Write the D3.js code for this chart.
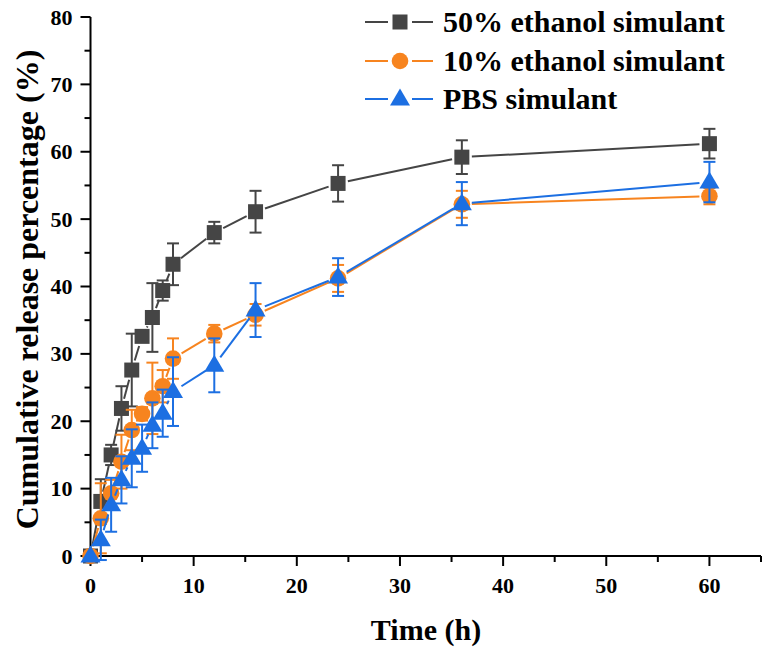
<!DOCTYPE html>
<html><head><meta charset="utf-8">
<script src="https://cdn.jsdelivr.net/npm/d3@7"></script>
<style>body{margin:0;background:#fff}svg{display:block}</style>
</head><body>
<script>
const time = [0,1,2,3,4,5,6,7,8,12,16,24,36,60];
const eth50 = [0,8.1,15.0,21.9,27.6,32.6,35.4,39.4,43.3,48.0,51.1,55.3,59.2,61.2];
const eth50Err = [0,3.3,1.5,3.3,5.4,0.8,5.1,1.5,3.1,1.6,3.1,2.7,2.5,2.2];
const eth10 = [0,5.6,9.3,14.0,18.7,21.1,23.4,25.2,29.3,33.0,35.8,41.2,52.2,53.4];
const eth10Err = [0,5.2,2.0,4.0,3.0,1.0,5.3,2.4,3.0,1.3,1.6,2.0,2.0,1.2];
const pbs = [0,2.4,7.6,11.3,14.5,16.0,19.4,21.2,24.4,28.3,36.5,41.4,52.3,55.5];
const pbsErr = [0,3.0,4.0,3.5,4.3,3.5,3.4,3.5,5.1,4.0,4.0,2.8,3.2,3.0];
const seriesNames = ["50% ethanol simulant","10% ethanol simulant","PBS simulant"];
const xTicks = [0,10,20,30,40,50,60];
const yTicks = [0,10,20,30,40,50,60,70,80];

const W=772,H=650;
const svg=d3.select("body").append("svg").attr("width",W).attr("height",H);
const x=d3.scaleLinear().domain([0,65]).range([90.5,761]);
const y=d3.scaleLinear().domain([0,80]).range([556,17]);
const font="'Liberation Serif','Times New Roman',serif";

const series=[
 {name:seriesNames[0],vals:eth50,err:eth50Err,color:"#454545",shape:"square"},
 {name:seriesNames[1],vals:eth10,err:eth10Err,color:"#f7841f",shape:"circle"},
 {name:seriesNames[2],vals:pbs,err:pbsErr,color:"#1c6fe2",shape:"triangle"}
];

function marker(g,shape,cx,cy,color){
  if(shape==="square") g.append("rect").attr("x",cx-7.5).attr("y",cy-7.5).attr("width",15).attr("height",15).attr("fill",color);
  else if(shape==="circle") g.append("circle").attr("cx",cx).attr("cy",cy).attr("r",8.3).attr("fill",color);
  else g.append("path").attr("d",`M${cx},${cy-10.5}L${cx+10},${cy+6.5}L${cx-10},${cy+6.5}Z`).attr("fill",color);
}

// axes
const gx=svg.append("g").attr("transform",`translate(0,${y(0)})`);
gx.append("line").attr("x1",x(0)-1).attr("x2",x(65)).attr("stroke","#000").attr("stroke-width",2);
d3.range(0,66,5).forEach(v=>{
  gx.append("line").attr("x1",x(v)).attr("x2",x(v)).attr("y1",0).attr("y2",v%10===0?10:6).attr("stroke","#000").attr("stroke-width",2);
});
xTicks.forEach(v=>gx.append("text").attr("x",x(v)).attr("y",37).attr("text-anchor","middle")
  .attr("font-family",font).attr("font-weight","bold").attr("font-size",22).text(v));
const gy=svg.append("g").attr("transform",`translate(${x(0)},0)`);
gy.append("line").attr("y1",y(0)+1).attr("y2",y(80)).attr("stroke","#000").attr("stroke-width",2);
d3.range(0,81,5).forEach(v=>{
  gy.append("line").attr("y1",y(v)).attr("y2",y(v)).attr("x1",0).attr("x2",v%10===0?-10:-6).attr("stroke","#000").attr("stroke-width",2);
});
yTicks.forEach(v=>gy.append("text").attr("x",-18).attr("y",y(v)+7.5).attr("text-anchor","end")
  .attr("font-family",font).attr("font-weight","bold").attr("font-size",22).text(v));

svg.append("text").attr("x",426).attr("y",640).attr("text-anchor","middle")
  .attr("font-family",font).attr("font-weight","bold").attr("font-size",30).text("Time (h)");
svg.append("text").attr("transform",`translate(38,${(y(0)+y(80))/2+3}) rotate(-90)`).attr("text-anchor","middle")
  .attr("font-family",font).attr("font-weight","bold").attr("font-size",32).text("Cumulative release percentage (%)");

// data
const gap=10;
series.forEach(s=>{
  const g=svg.append("g");
  const pts=time.map((t,i)=>[x(t),y(s.vals[i])]);
  for(let i=0;i<pts.length-1;i++){
    const [x1,y1]=pts[i],[x2,y2]=pts[i+1];
    const dx=x2-x1,dy=y2-y1,L=Math.hypot(dx,dy);
    if(L>2*gap+1){
      const ux=dx/L,uy=dy/L;
      g.append("line").attr("x1",x1+ux*gap).attr("y1",y1+uy*gap).attr("x2",x2-ux*gap).attr("y2",y2-uy*gap)
        .attr("stroke",s.color).attr("stroke-width",2);
    }
  }
  time.forEach((t,i)=>{
    if(s.err[i]>0){
      const cx=x(t),y1=y(s.vals[i]+s.err[i]),y2=y(s.vals[i]-s.err[i]);
      g.append("line").attr("x1",cx).attr("x2",cx).attr("y1",y1).attr("y2",y2).attr("stroke",s.color).attr("stroke-width",2);
      [y1,y2].forEach(yy=>g.append("line").attr("x1",cx-6).attr("x2",cx+6).attr("y1",yy).attr("y2",yy).attr("stroke",s.color).attr("stroke-width",2));
    }
  });
  time.forEach((t,i)=>marker(g,s.shape,x(t),y(s.vals[i]),s.color));
});

// legend
const legY=[22,61,99];
series.forEach((s,i)=>{
  const g=svg.append("g");
  [[365,388],[412,433]].forEach(([a,b])=>g.append("line").attr("x1",a).attr("x2",b).attr("y1",legY[i]).attr("y2",legY[i]).attr("stroke",s.color).attr("stroke-width",2));
  marker(g,s.shape,400,legY[i],s.color);
  g.append("text").attr("x",443).attr("y",legY[i]+10).attr("font-family",font).attr("font-weight","bold")
    .attr("font-size",30).attr("fill","#000").text(s.name);
});
</script>
</body></html>
